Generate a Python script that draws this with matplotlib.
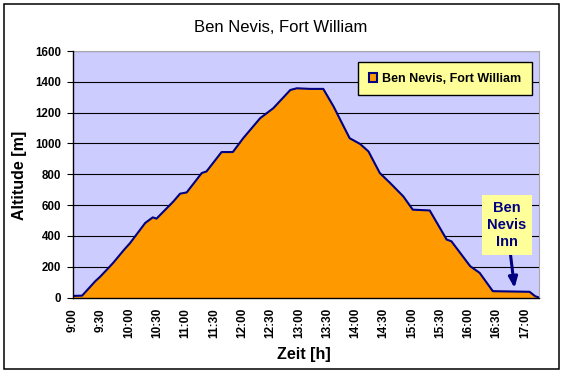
import matplotlib
matplotlib.use("Agg")
import matplotlib.pyplot as plt
import matplotlib.patches as patches

# Zeit in Minuten nach 9:00, Hoehe in m
minutes = [0, 10, 24, 29, 38, 43, 54, 61, 77, 85, 89, 107, 114, 121, 137, 142,
           158, 170, 181, 199, 213, 220, 231, 238, 252, 266, 277, 285, 294, 305,
           314, 326, 337, 351, 361, 379, 397, 402, 422, 432, 446, 485, 491, 495]
altitude = [10, 12, 106, 134, 192, 225, 306, 354, 484, 520, 512, 624, 674, 682,
            808, 818, 944, 944, 1034, 1164, 1229, 1275, 1347, 1358, 1354, 1354,
            1239, 1142, 1034, 997, 948, 808, 743, 656, 570, 565, 376, 365, 203,
            160, 41, 37, 8, 0]
tick_labels = ["9:00", "9:30", "10:00", "10:30", "11:00", "11:30", "12:00",
               "12:30", "13:00", "13:30", "14:00", "14:30", "15:00", "15:30",
               "16:00", "16:30", "17:00"]
y_ticks = [0, 200, 400, 600, 800, 1000, 1200, 1400, 1600]

plt.rcParams['font.family'] = ['Liberation Sans', 'DejaVu Sans']

W, H = 563, 373
fig = plt.figure(figsize=(W / 100, H / 100), dpi=100)

# Rahmen um das ganze Diagramm
fig.patches.append(patches.Rectangle((4 / W, 1 - 369 / H), 555 / W, 365 / H,
                                     transform=fig.transFigure, fill=False,
                                     edgecolor='black', linewidth=1.1))

left, right, top, bottom = 72.7, 539, 51, 297.5
ax = fig.add_axes([left / W, 1 - bottom / H, (right - left) / W, (bottom - top) / H])
ax.set_facecolor('#CCCCFF')

ax.fill_between(minutes, altitude, 0, color='#FF9900', zorder=2, linewidth=0)
ax.plot(minutes, altitude, color='#000080', linewidth=1.5, zorder=3)

ax.set_xlim(0, 495)
ax.set_ylim(0, 1600)
ax.set_yticks(y_ticks)
ax.set_yticklabels([str(v) for v in y_ticks], fontsize=8.3, fontweight='bold')
ax.set_xticks([30 * i for i in range(len(tick_labels))])
ax.set_xticklabels(tick_labels, rotation=90, fontsize=8.5, fontweight='bold')
ax.tick_params(axis='x', length=0, pad=7.5)
ax.tick_params(axis='y', length=4, width=0.8, pad=4.5, direction='out')
ax.yaxis.grid(True, color='black', linewidth=0.8, zorder=1)
ax.set_axisbelow(True)

for s in ['top', 'right']:
    ax.spines[s].set_color('#A8A8A8')
    ax.spines[s].set_linewidth(0.8)
for s in ['left', 'bottom']:
    ax.spines[s].set_color('black')
    ax.spines[s].set_linewidth(1.0)
    ax.spines[s].set_zorder(4)

fig.text(281 / W, 1 - 27 / H, "Ben Nevis, Fort William", fontsize=12,
         ha='center', va='center')
fig.text(20 / W, 1 - 175 / H, "Altitude [m]", fontsize=11.5, fontweight='bold',
         rotation=90, ha='center', va='center')
fig.text(304 / W, 1 - 355 / H, "Zeit [h]", fontsize=11.5, fontweight='bold',
         ha='center', va='center')

handle = patches.Patch(facecolor='#FF9900', edgecolor='#000080', linewidth=1.5)
leg = ax.legend([handle], ["Ben Nevis, Fort William"], loc='upper right',
                bbox_to_anchor=(0.985, 0.955), fancybox=False, framealpha=1,
                facecolor='#FFFF99', edgecolor='black', handlelength=0.7,
                handleheight=0.7, handletextpad=0.4, borderpad=0.85,
                borderaxespad=0, prop={'weight': 'bold', 'size': 9})
leg.get_frame().set_linewidth(1.0)
leg.set_zorder(5)

ax.annotate("Ben\nNevis\nInn", xy=(469, 62), xytext=(461, 470),
            ha='center', va='center', fontsize=10.5, fontweight='bold',
            color='#000080', linespacing=1.3, zorder=6,
            bbox=dict(boxstyle='square,pad=0.4', facecolor='#FFFF99',
                      edgecolor='none'),
            arrowprops=dict(arrowstyle='-|>,head_length=0.6,head_width=0.25',
                            color='#000080', linewidth=2.2, shrinkA=0, shrinkB=0))

fig.savefig("out.png", dpi=100)
